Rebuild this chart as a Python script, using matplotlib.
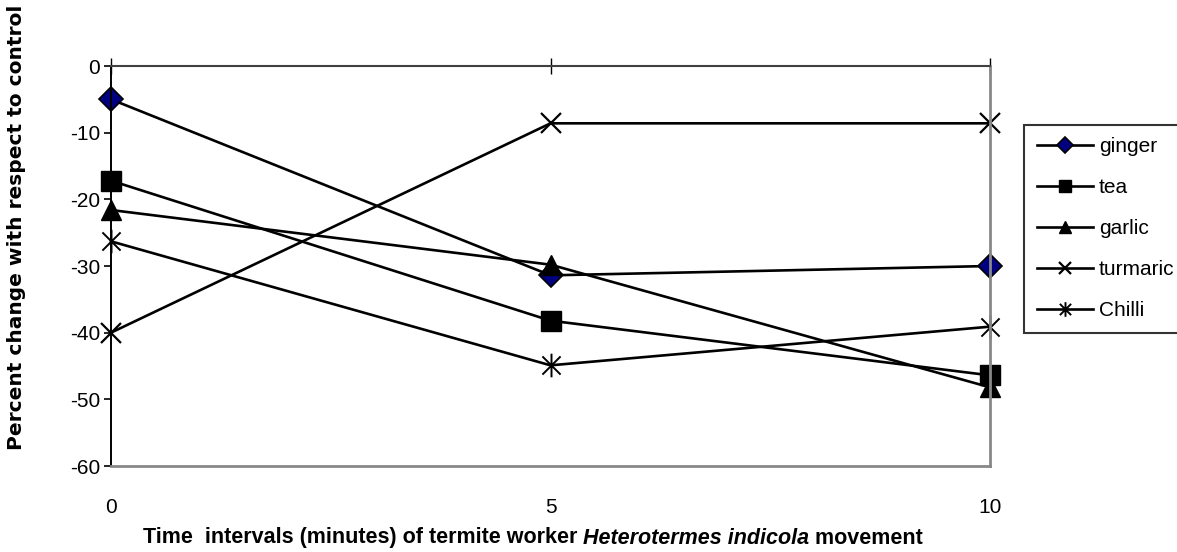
import matplotlib
matplotlib.use("Agg")
import matplotlib.pyplot as plt
from matplotlib.path import Path

times = [0, 5, 10]
series_names = ["ginger", "tea", "garlic", "turmaric", "Chilli"]
ginger = [-5.0, -31.4, -30.0]
tea = [-17.2, -38.2, -46.4]
garlic = [-21.6, -29.8, -48.2]
turmaric = [-40.0, -8.6, -8.6]
chilli = [-26.3, -44.9, -39.1]
yticks = [0, -10, -20, -30, -40, -50, -60]
xticks = [0, 5, 10]

plt.rcParams["font.family"] = ["Liberation Sans", "DejaVu Sans"]

W, H = 1177, 552
fig = plt.figure(figsize=(W / 100, H / 100), dpi=100)
ax = fig.add_axes([111 / W, 1 - 466 / H, (990 - 111) / W, (466 - 66) / H])

star = Path([(-1, -1), (1, 1), (-1, 1), (1, -1), (0, -1.3), (0, 1.3)],
            [Path.MOVETO, Path.LINETO, Path.MOVETO, Path.LINETO, Path.MOVETO, Path.LINETO])

styles = [
    dict(marker="D", ms=12.5, mfc="#000080", mec="black", mew=1.2),
    dict(marker="s", ms=14, mfc="black", mec="black"),
    dict(marker="^", ms=15, mfc="black", mec="black"),
    dict(marker="x", ms=15, mec="black", mew=1.6),
    dict(marker=star, ms=17, mec="black", mew=1.4),
]
data = [ginger, tea, garlic, turmaric, chilli]
for name, vals, st in zip(series_names, data, styles):
    ax.plot(times, vals, color="black", lw=1.9, label=name, clip_on=False, **st)

ax.set_xlim(0, 10)
ax.set_ylim(-60, 0)
ax.set_xticks(xticks)
ax.set_yticks(yticks)
ax.set_xticklabels([str(t) for t in xticks])
ax.set_yticklabels([str(t) for t in yticks])

ax.spines["left"].set_color("black")
ax.spines["left"].set_linewidth(1.4)
ax.spines["top"].set_color("#404040")
ax.spines["top"].set_linewidth(1.5)
for s in ["right", "bottom"]:
    ax.spines[s].set_color("#888888")
    ax.spines[s].set_linewidth(2)

ax.tick_params(axis="x", top=True, bottom=False, labeltop=False, labelbottom=True,
               length=0, pad=23, labelsize=15)
for t in ax.xaxis.get_major_ticks():
    t.tick2line.set_marker("|")
    t.tick2line.set_markersize(11)
    t.tick2line.set_markeredgewidth(1)
    t.tick2line.set_color("#404040")
ax.tick_params(axis="y", direction="out", length=5, width=1.2, pad=3, labelsize=15)

leg = fig.legend(loc="upper left", bbox_to_anchor=(1024 / W, 1 - 125 / H),
                 frameon=True, fancybox=False, edgecolor="black", fontsize=15,
                 handlelength=2.7, handletextpad=0.3, labelspacing=1.05,
                 borderpad=0.6, borderaxespad=0, markerscale=0.62)
leg.get_frame().set_linewidth(1.5)

fig.text(17 / W, 1 - 227 / H, "Percent change with respect to control", rotation=90,
         ha="center", va="center", fontsize=14.5, fontweight="bold", family="DejaVu Sans")

# x label with italic species name
fig.canvas.draw()
r = fig.canvas.get_renderer()
parts = [("Time  intervals (minutes) of termite worker ", "normal"),
         ("Heterotermes indicola", "italic"),
         (" movement", "normal")]
texts = []
for s, style in parts:
    t = fig.text(0, 1 - 538 / H, s, ha="left", va="center", fontsize=15.5,
                 fontweight="bold", style=style)
    texts.append(t)
widths = [t.get_window_extent(r).width for t in texts]
total = sum(widths)
start = 533 - total / 2
for t, w in zip(texts, widths):
    t.set_x(start / W)
    start += w

fig.savefig("out.png", dpi=100)
